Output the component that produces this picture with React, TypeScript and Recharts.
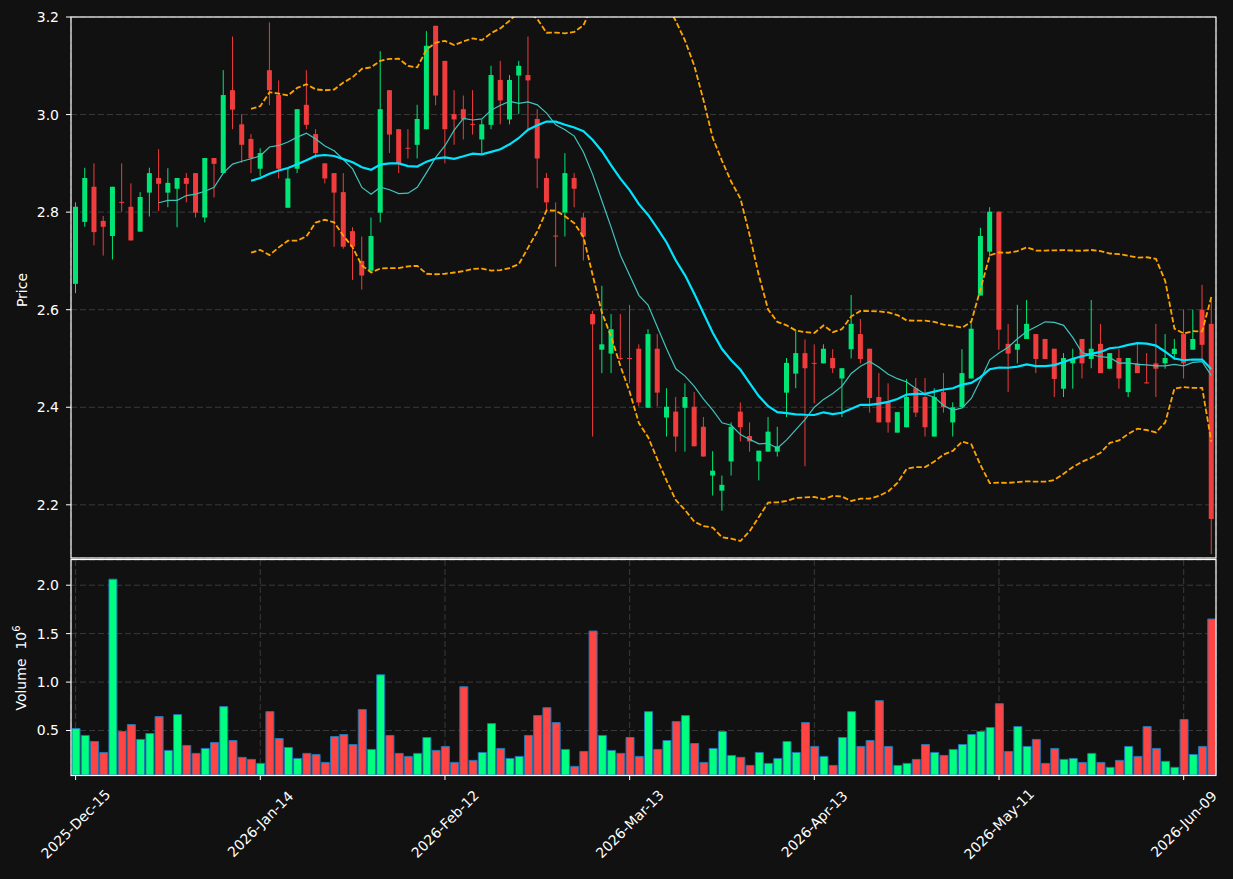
import React from 'react';
import { ComposedChart, Bar, Line, XAxis, YAxis, CartesianGrid, Cell } from 'recharts';

// OHLC, one entry per trading day
const opens = [
  2.653, 2.780, 2.852, 2.782, 2.751, 2.821, 2.811, 2.760, 2.840, 2.870,
  2.840, 2.848, 2.870, 2.880, 2.789, 2.911, 2.880, 3.050, 2.980, 2.950,
  2.889, 3.091, 3.040, 2.809, 2.889, 3.020, 2.960, 2.900, 2.880, 2.841,
  2.761, 2.700, 2.680, 2.799, 3.050, 2.970, 2.932, 2.938, 2.970, 3.182,
  3.110, 3.001, 3.011, 2.981, 2.949, 2.979, 3.071, 2.990, 3.080, 3.081,
  2.991, 2.870, 2.752, 2.799, 2.870, 2.789, 2.591, 2.518, 2.510, 2.501,
  2.501, 2.520, 2.399, 2.520, 2.379, 2.391, 2.399, 2.401, 2.360, 2.260,
  2.229, 2.289, 2.391, 2.341, 2.289, 2.309, 2.309, 2.430, 2.469, 2.511,
  2.491, 2.490, 2.501, 2.459, 2.519, 2.550, 2.520, 2.421, 2.410, 2.348,
  2.359, 2.439, 2.421, 2.340, 2.431, 2.369, 2.400, 2.459, 2.629, 2.719,
  2.801, 2.530, 2.518, 2.540, 2.550, 2.540, 2.520, 2.438, 2.490, 2.540,
  2.499, 2.530, 2.479, 2.501, 2.431, 2.490, 2.451, 2.490, 2.490, 2.509,
  2.550, 2.518, 2.600, 2.571,
];
const highs = [
  2.820, 2.891, 2.900, 2.792, 2.852, 2.900, 2.859, 2.841, 2.891, 2.929,
  2.890, 2.870, 2.880, 2.880, 2.911, 2.911, 3.091, 3.160, 3.001, 2.960,
  2.931, 3.189, 3.070, 2.889, 3.011, 3.091, 2.970, 2.900, 2.880, 2.880,
  2.769, 2.750, 2.789, 3.130, 3.050, 2.970, 2.970, 3.020, 3.171, 3.182,
  3.110, 3.050, 3.039, 3.050, 2.990, 3.100, 3.110, 3.081, 3.110, 3.160,
  3.011, 2.880, 2.820, 2.921, 2.880, 2.799, 2.598, 2.649, 2.591, 2.591,
  2.610, 2.529, 2.560, 2.550, 2.439, 2.421, 2.449, 2.431, 2.380, 2.310,
  2.260, 2.369, 2.410, 2.369, 2.311, 2.380, 2.360, 2.501, 2.559, 2.539,
  2.529, 2.529, 2.519, 2.480, 2.630, 2.581, 2.520, 2.470, 2.449, 2.390,
  2.458, 2.460, 2.460, 2.439, 2.470, 2.410, 2.519, 2.574, 2.768, 2.810,
  2.801, 2.571, 2.610, 2.620, 2.550, 2.540, 2.520, 2.511, 2.520, 2.540,
  2.620, 2.571, 2.511, 2.519, 2.501, 2.530, 2.511, 2.571, 2.550, 2.540,
  2.600, 2.600, 2.651, 2.620,
];
const lows = [
  2.634, 2.770, 2.732, 2.711, 2.703, 2.801, 2.742, 2.760, 2.791, 2.802,
  2.810, 2.769, 2.820, 2.789, 2.779, 2.830, 2.880, 2.970, 2.901, 2.880,
  2.873, 3.019, 2.869, 2.809, 2.880, 2.970, 2.910, 2.859, 2.729, 2.725,
  2.661, 2.641, 2.680, 2.779, 2.921, 2.880, 2.910, 2.910, 2.970, 3.019,
  2.900, 2.938, 2.949, 2.959, 2.921, 2.970, 2.980, 2.980, 3.001, 2.970,
  2.849, 2.802, 2.688, 2.750, 2.810, 2.701, 2.340, 2.470, 2.470, 2.497,
  2.449, 2.402, 2.399, 2.402, 2.340, 2.309, 2.309, 2.320, 2.299, 2.219,
  2.188, 2.260, 2.330, 2.309, 2.250, 2.309, 2.299, 2.380, 2.439, 2.279,
  2.408, 2.490, 2.470, 2.380, 2.500, 2.490, 2.389, 2.369, 2.348, 2.348,
  2.359, 2.380, 2.340, 2.340, 2.389, 2.340, 2.400, 2.459, 2.629, 2.709,
  2.518, 2.431, 2.490, 2.540, 2.470, 2.499, 2.421, 2.421, 2.438, 2.459,
  2.480, 2.470, 2.479, 2.438, 2.421, 2.470, 2.449, 2.421, 2.479, 2.497,
  2.459, 2.518, 2.499, 2.099,
];
const closes = [
  2.811, 2.870, 2.759, 2.770, 2.852, 2.819, 2.742, 2.831, 2.880, 2.858,
  2.860, 2.870, 2.858, 2.799, 2.911, 2.899, 3.040, 3.010, 2.938, 2.910,
  2.921, 3.050, 2.889, 2.869, 3.011, 2.979, 2.921, 2.869, 2.840, 2.729,
  2.729, 2.670, 2.751, 3.011, 2.959, 2.900, 2.930, 2.991, 3.141, 3.039,
  2.970, 2.990, 2.990, 2.979, 2.980, 3.081, 3.029, 3.071, 3.100, 3.070,
  2.910, 2.820, 2.750, 2.880, 2.848, 2.750, 2.570, 2.529, 2.560, 2.499,
  2.499, 2.410, 2.550, 2.430, 2.401, 2.340, 2.421, 2.320, 2.299, 2.270,
  2.241, 2.360, 2.359, 2.330, 2.311, 2.350, 2.320, 2.491, 2.511, 2.480,
  2.489, 2.520, 2.480, 2.480, 2.571, 2.499, 2.419, 2.369, 2.369, 2.390,
  2.421, 2.389, 2.359, 2.421, 2.400, 2.400, 2.470, 2.561, 2.751, 2.801,
  2.559, 2.510, 2.530, 2.571, 2.499, 2.499, 2.458, 2.501, 2.499, 2.490,
  2.520, 2.470, 2.511, 2.459, 2.501, 2.470, 2.449, 2.479, 2.501, 2.520,
  2.490, 2.540, 2.528, 2.171,
];
// volume in millions
const volumes = [
  0.520, 0.449, 0.387, 0.274, 2.062, 0.490, 0.562, 0.408, 0.469, 0.644,
  0.295, 0.664, 0.346, 0.264, 0.315, 0.377, 0.747, 0.397, 0.223, 0.202,
  0.161, 0.695, 0.418, 0.325, 0.212, 0.264, 0.253, 0.171, 0.438, 0.459,
  0.356, 0.716, 0.305, 1.075, 0.449, 0.264, 0.233, 0.264, 0.428, 0.295,
  0.336, 0.171, 0.952, 0.192, 0.274, 0.572, 0.315, 0.212, 0.233, 0.449,
  0.654, 0.736, 0.582, 0.305, 0.130, 0.284, 1.527, 0.449, 0.295, 0.264,
  0.428, 0.233, 0.695, 0.305, 0.397, 0.592, 0.654, 0.366, 0.171, 0.315,
  0.490, 0.243, 0.223, 0.140, 0.274, 0.161, 0.212, 0.387, 0.274, 0.582,
  0.336, 0.233, 0.140, 0.428, 0.695, 0.336, 0.397, 0.808, 0.336, 0.140,
  0.161, 0.202, 0.356, 0.274, 0.243, 0.305, 0.356, 0.459, 0.490, 0.531,
  0.777, 0.284, 0.541, 0.336, 0.408, 0.161, 0.315, 0.202, 0.212, 0.171,
  0.264, 0.171, 0.120, 0.192, 0.336, 0.233, 0.541, 0.315, 0.182, 0.120,
  0.613, 0.253, 0.336, 1.651,
];
const dateTicks = [0, 20, 40, 60, 80, 100, 120];
const dateLabels = ['2025-Dec-15', '2026-Jan-14', '2026-Feb-12', '2026-Mar-13', '2026-Apr-13', '2026-May-11', '2026-Jun-09'];
const priceTicks = [2.2, 2.4, 2.6, 2.8, 3.0, 3.2];
const volumeTicks = [0.5, 1.0, 1.5, 2.0];

const UP = '#00e676';
const DOWN = '#f03c3c';
const VOL_UP = '#00ff80';
const VOL_DOWN = '#ff4444';

const sma = (vals: number[], n: number) =>
    vals.map((_, i) => {
        if (i < n - 1) return null;
        let s = 0;
        for (let k = i - n + 1; k <= i; k++) s += vals[k];
        return s / n;
    });

const ma10 = sma(closes, 10);
const ma20 = sma(closes, 20);
const bbStd = closes.map((_, i) => {
    if (i < 19) return null;
    const m = ma20[i] as number;
    let s = 0;
    for (let k = i - 19; k <= i; k++) s += (closes[k] - m) ** 2;
    return Math.sqrt(s / 20);
});

const rows = closes.map((c, i) => ({
    i,
    open: opens[i],
    high: highs[i],
    low: lows[i],
    close: c,
    range: [lows[i], highs[i]],
    volume: volumes[i],
    ma10: ma10[i],
    ma20: ma20[i],
    bbUp: ma20[i] == null ? null : (ma20[i] as number) + 2 * (bbStd[i] as number),
    bbLo: ma20[i] == null ? null : (ma20[i] as number) - 2 * (bbStd[i] as number),
}));

const Candle = (props: any) => {
    const { x, y, width, height, payload } = props;
    if (!payload) return null;
    const { open, close, high, low } = payload;
    const top = Math.min(y, y + height);
    const h = Math.abs(height);
    const span = high - low;
    const toY = (v: number) => (span > 0 ? top + ((high - v) / span) * h : top);
    const color = close >= open ? UP : DOWN;
    const cx = x + width / 2;
    const bTop = toY(Math.max(open, close));
    const bBot = toY(Math.min(open, close));
    return (
        <g>
            <line x1={cx} x2={cx} y1={top} y2={top + h} stroke={color} strokeWidth={1} />
            <rect x={x} y={bTop} width={width} height={Math.max(bBot - bTop, 1)} fill={color} />
        </g>
    );
};

const DateTick = (props: any) => {
    const { x, payload } = props;
    const k = dateTicks.indexOf(payload.value);
    if (k < 0) return null;
    return (
        <text
            transform={`translate(${x},266) rotate(-45)`}
            textAnchor="middle"
            dominantBaseline="central"
            fill="#ffffff"
            fontSize={14}
        >
            {dateLabels[k]}
        </text>
    );
};

const axisTick = { fill: '#ffffff', fontSize: 14 };

export default function App() {
    return (
        <div style={{ position: 'absolute', left: 0, top: 0, width: 1233, height: 879, background: '#111111', overflow: 'hidden', fontFamily: '"DejaVu Sans", sans-serif' }}>
            <div style={{ position: 'absolute', left: 0, top: 0 }}>
                <ComposedChart width={1233} height={560} data={rows} margin={{ top: 17, right: 17, bottom: 0, left: 0 }}>
                    <CartesianGrid stroke="#3a3a3a" strokeDasharray="6 3" />
                    <XAxis dataKey="i" height={2} interval={19} tick={false} tickLine={false} axisLine={false} />
                    <YAxis
                        width={71}
                        domain={[2.091, 3.2]}
                        allowDataOverflow
                        ticks={priceTicks}
                        tickFormatter={(v) => v.toFixed(1)}
                        tick={axisTick}
                        tickLine={{ stroke: '#ffffff' }}
                        tickSize={5}
                        tickMargin={7}
                        axisLine={false}
                    />
                    <Bar dataKey="range" shape={Candle} barSize={5} isAnimationActive={false} />
                    <Line type="linear" dataKey="ma10" stroke="#40c4bc" strokeWidth={1.2} dot={false} isAnimationActive={false} />
                    <Line type="linear" dataKey="ma20" stroke="#00e5ff" strokeWidth={2.2} dot={false} isAnimationActive={false} />
                    <Line type="linear" dataKey="bbUp" stroke="#ffa500" strokeWidth={1.8} strokeDasharray="5.5 2.4" dot={false} isAnimationActive={false} />
                    <Line type="linear" dataKey="bbLo" stroke="#ffa500" strokeWidth={1.8} strokeDasharray="5.5 2.4" dot={false} isAnimationActive={false} />
                </ComposedChart>
            </div>
            <div style={{ position: 'absolute', left: 0, top: 558 }}>
                <ComposedChart width={1233} height={321} data={rows} margin={{ top: 2, right: 17, bottom: 0, left: 0 }}>
                    <CartesianGrid stroke="#3a3a3a" strokeDasharray="6 3" />
                    <XAxis
                        dataKey="i"
                        height={104}
                        interval={19}
                        tick={<DateTick />}
                        tickLine={{ stroke: '#ffffff' }}
                        tickSize={5}
                        axisLine={false}
                    />
                    <YAxis
                        width={71}
                        domain={[0.041, 2.26]}
                        allowDataOverflow
                        ticks={volumeTicks}
                        tickFormatter={(v) => v.toFixed(1)}
                        tick={axisTick}
                        tickLine={{ stroke: '#ffffff' }}
                        tickSize={5}
                        tickMargin={7}
                        axisLine={false}
                    />
                    <Bar dataKey="volume" barSize={8} stroke="#1f77b4" strokeWidth={1} isAnimationActive={false}>
                        {rows.map((r) => (
                            <Cell key={r.i} fill={r.close >= r.open ? VOL_UP : VOL_DOWN} />
                        ))}
                    </Bar>
                </ComposedChart>
            </div>
            <svg width={1233} height={879} style={{ position: 'absolute', left: 0, top: 0, pointerEvents: 'none' }}>
                <rect x={71} y={17} width={1145} height={541} fill="none" stroke="#ffffff" strokeWidth={1.2} />
                <rect x={71} y={559.5} width={1145} height={216} fill="none" stroke="#ffffff" strokeWidth={1.2} />
                <text transform="translate(27,290) rotate(-90)" textAnchor="middle" fill="#ffffff" fontSize={14}>Price</text>
                <text transform="translate(26,668) rotate(-90)" textAnchor="middle" fill="#ffffff" fontSize={14} style={{ whiteSpace: 'pre' }}>
                    {'Volume  10'}
                    <tspan dy={-6} fontSize={10}>6</tspan>
                </text>
            </svg>
        </div>
    );
}
